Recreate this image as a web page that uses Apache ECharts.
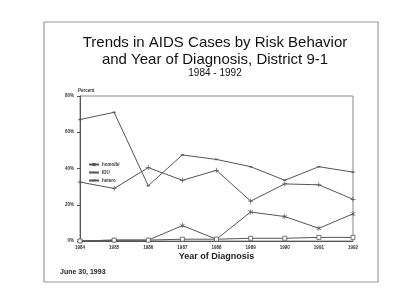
<!DOCTYPE html>
<html>
<head>
<meta charset="utf-8">
<script src="https://cdn.jsdelivr.net/npm/echarts@6/dist/echarts.min.js"></script>
<style>
  html, body { margin: 0; padding: 0; background: #fff; }
  #chart { width: 400px; height: 306px; }
</style>
</head>
<body>
<div id="chart"></div>
<script>
// values
var years = ['1984', '1985', '1986', '1987', '1988', '1989', '1990', '1991', '1992'];
var homoBi = [67, 71, 30.5, 47.5, 45, 41, 33.5, 41, 38];
var idu = [32.5, 29, 40.5, 33.5, 39, 22, 31.5, 31, 23];
var hetero = [0, 0.5, 0.5, 8.5, 1, 16, 13.5, 7, 15];
var other = [0, 0.5, 0.5, 1, 1, 1.5, 1.5, 2, 2];
var yTicks = [0, 20, 40, 60, 80];

var ink = '#555';
var font = 'Liberation Sans';

var plusPath = 'path://M4.3,0H5.7V4.3H10V5.7H5.7V10H4.3V5.7H0V4.3H4.3Z';
var starPath = 'path://M4.4,0H5.6V3.9L8.8,1.2L9.5,2L6.2,5L9.5,8L8.8,8.8L5.6,6.1V10H4.4V6.1L1.2,8.8L0.5,8L3.8,5L0.5,2L1.2,1.2L4.4,3.9Z';

function mkSerie(name, data, symbol, size, fill) {
    return {
        name: name,
        type: 'line',
        data: data,
        symbol: symbol,
        symbolSize: size,
        showAllSymbol: true,
        lineStyle: {color: ink, width: 1},
        itemStyle: {color: fill, borderColor: ink, borderWidth: fill === '#fff' ? 0.8 : 0},
        silent: true
    };
}

var chart = echarts.init(document.getElementById('chart'));
chart.setOption({
    animation: false,
    backgroundColor: '#fff',
    textStyle: {fontFamily: font},
    title: [
        {
            text: 'Trends in AIDS Cases by Risk Behavior',
            left: 210, top: 30, textAlign: 'center',
            textStyle: {fontSize: 15, fontWeight: 'normal', color: '#111', fontFamily: font}
        },
        {
            text: 'and Year of Diagnosis, District 9-1',
            left: 210, top: 47, textAlign: 'center',
            textStyle: {fontSize: 15, fontWeight: 'normal', color: '#111', fontFamily: font}
        },
        {
            text: '1984 - 1992',
            left: 210, top: 63, textAlign: 'center',
            textStyle: {fontSize: 10, fontWeight: 'normal', color: '#111', fontFamily: font}
        },
        {
            text: 'June 30, 1993',
            left: 55, top: 264,
            textStyle: {fontSize: 7, fontWeight: 'bold', color: '#222', fontFamily: font}
        }
    ],
    legend: {
        orient: 'vertical',
        left: 83, top: 157,
        itemGap: 3,
        itemWidth: 10, itemHeight: 4,
        data: ['homo/bi', 'IDU', 'hetero'],
        textStyle: {fontSize: 4.5, color: '#333', fontWeight: 'bold', padding: [0, 0, 0, -2]}
    },
    grid: {
        left: 80, right: 47, top: 96, bottom: 65,
        show: true, borderColor: '#888', borderWidth: 1
    },
    xAxis: {
        type: 'category',
        data: years,
        boundaryGap: false,
        name: 'Year of Diagnosis',
        nameLocation: 'middle',
        nameGap: 11,
        nameTextStyle: {fontSize: 9, fontWeight: 'bold', color: '#222', fontFamily: font},
        axisLine: {lineStyle: {color: ink}},
        axisTick: {show: false},
        axisLabel: {fontSize: 4.5, fontWeight: 'bold', color: '#333', margin: 4, interval: 0}
    },
    yAxis: {
        type: 'value',
        min: 0, max: 80, interval: 20,
        name: 'Percent',
        nameLocation: 'end',
        nameGap: 3,
        nameTextStyle: {fontSize: 4.5, fontWeight: 'bold', color: '#333', align: 'left', padding: [0, 0, 0, -2]},
        axisLine: {show: true, lineStyle: {color: ink}},
        axisTick: {show: true, length: 3, lineStyle: {color: ink}},
        splitLine: {show: false},
        axisLabel: {
            fontSize: 4.5, fontWeight: 'bold', color: '#333', margin: 6,
            formatter: function (v) { return yTicks.indexOf(v) >= 0 ? v + '%' : ''; }
        }
    },
    series: [
        mkSerie('homo/bi', homoBi, 'rect', [3, 1.5], ink),
        mkSerie('IDU', idu, plusPath, 5, ink),
        mkSerie('hetero', hetero, starPath, 5, ink),
        mkSerie('other', other, 'rect', 4, '#fff')
    ],
    graphic: [
        {
            type: 'rect',
            shape: {x: 44, y: 22, width: 334, height: 260},
            style: {fill: null, stroke: '#999', lineWidth: 1.2},
            silent: true
        }
    ]
});
</script>
</body>
</html>
